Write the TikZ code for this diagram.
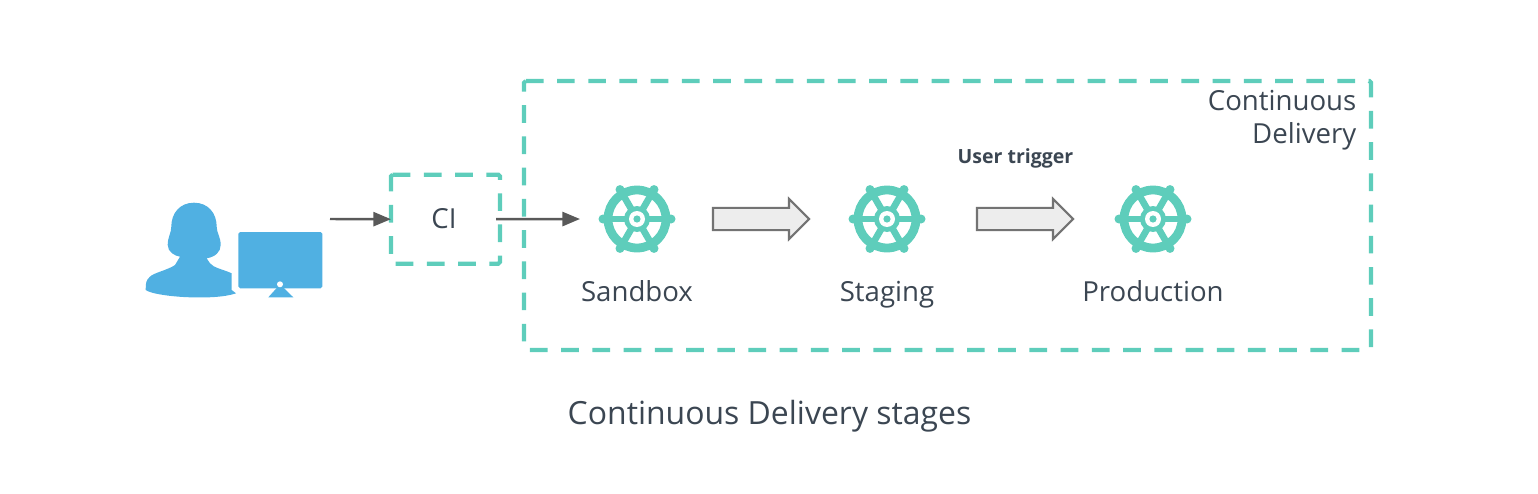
\documentclass[tikz,border=0pt]{standalone}
\usepackage{fontspec}
\setmainfont{Open Sans}
\usetikzlibrary{arrows.meta,positioning,shapes.arrows}
\definecolor{cdteal}{RGB}{94,205,187}
\definecolor{userblue}{RGB}{80,176,226}
\definecolor{txtgrey}{RGB}{59,70,82}
\definecolor{arrgrey}{RGB}{89,89,89}

\begin{document}
\begin{tikzpicture}[
  x=0.01cm,y=-0.01cm,
  arr/.style={-{Triangle[length=5pt,width=4pt]},line width=0.7pt,arrgrey},
  dashline/.style={draw=cdteal,line width=1.2pt,dash pattern=on 0.177cm off 0.135cm,
    rounded corners=0.5pt},
  areabox/.style={inner sep=0pt,outer sep=0pt},
  lbl/.style={font=\fontsize{7.85}{9.35}\selectfont,text=txtgrey,inner sep=0pt},
  blockarr/.style={single arrow,draw=black!55,fill=black!7,line width=0.6pt,
    minimum height=0.96cm,single arrow head extend=0.09cm,
    single arrow head indent=0cm,inner xsep=0pt,inner ysep=0.1cm},
  stage/.style={circle,minimum size=0.74cm,inner sep=0pt},
  wheel/.pic={
    \draw[cdteal,line width=2.5pt] (0,0) circle (29);
    \foreach \ang in {0,60,120} {
      \draw[cdteal,line width=1.9pt] (\ang:-35) -- (\ang:35);
      \fill[cdteal] (\ang:34) circle (4.5);
      \fill[cdteal] (\ang:-34) circle (4.5);
    }
    \fill[cdteal] (0,0) circle (13);
    \fill[white] (0,0) circle (8);
    \fill[cdteal] (0,0) circle (3.6);
  }]

\useasboundingbox (0,0) rectangle (1538,494);

% dashed boxes
\node[areabox,minimum width=8.464cm,minimum height=2.69cm] (cd) at (947.5,215.5) {};
\node[areabox,minimum width=1.09cm,minimum height=0.89cm] (ci) at (445.5,219.2) {};
\draw[dashline] (cd.north west) -- (cd.north east) -- (cd.south east) -- (cd.south west) -- cycle;
\draw[dashline] (ci.north west) -- (ci.north east) -- (ci.south east) -- (ci.south west) -- cycle;
\node[lbl] at (444,219) {CI};
\node[lbl,align=right,anchor=base east] at (1357,143.5) {Continuous\\Delivery};

% user + monitor
\node[minimum width=1.77cm,minimum height=0.96cm,inner sep=0pt] (user) at (234,250) {};
\fill[userblue] (194,202.7) .. controls (180,202.7) and (171.3,213) .. (171.3,226.7)
  .. controls (171.3,233) and (167.7,237) .. (167.7,245)
  .. controls (167.7,252) and (175,256) .. (180,256.7)
  -- (175,265) .. controls (168,270) and (153,273) .. (150,276.7)
  .. controls (146,280) and (145.7,283) .. (145.7,290)
  .. controls (155,297) and (215,301) .. (236,293.3)
  -- (231.7,290) -- (231.7,273.3)
  .. controls (222,269) and (214,268) .. (210,263.3)
  -- (206.7,258.3) .. controls (215,257) and (220.7,252) .. (220.7,245)
  .. controls (220.7,237) and (216.7,233) .. (216.7,226.7)
  .. controls (216.7,213) and (208,202.7) .. (194,202.7) -- cycle;
\fill[userblue,rounded corners=0.5pt] (238.3,232) rectangle (322.3,288.3);
\fill[userblue] (276.7,288) -- (268.3,297.3) -- (293.3,297.3) -- (284,288) -- cycle;
\fill[white] (280,284.3) circle (3);

% stages
\foreach \nm/\xx/\ttl in {sandbox/637/Sandbox,staging/887/Staging,production/1153/Production} {
  \node[stage] (\nm) at (\xx,219) {};
  \pic at (\nm) {wheel};
  \node[lbl,anchor=base] (\nm lbl) at (\xx,301) {\ttl};
}
\node[blockarr] (toStaging) at (755.5,219) {};
\node[blockarr] (toProd) at (1019.5,219) {};
\node[font=\fontsize{5.55}{6.5}\selectfont\bfseries,text=txtgrey,inner sep=0pt,anchor=base] (trigger) at (1015.5,163) {User trigger};

% connectors
\coordinate (userout) at (330,219);
\coordinate (sandboxin) at (580,219);
\draw[arr] (userout) -- (ci.west);
\draw[arr] ([xshift=-0.04cm]ci.east) -- (sandboxin);

% caption
\node[font=\fontsize{9.08}{11}\selectfont,text=txtgrey,inner sep=0pt,anchor=base] (caption) at (769.5,424) {Continuous Delivery stages};
\end{tikzpicture}
\end{document}
